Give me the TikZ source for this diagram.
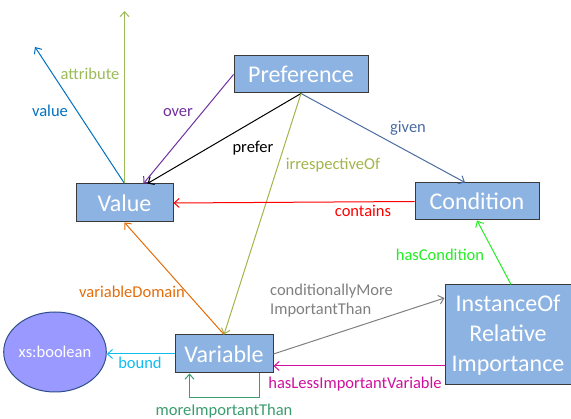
\documentclass[tikz,border=0pt]{standalone}
\usepackage{fontspec}
\setmainfont{Carlito}
\usetikzlibrary{arrows.meta,shapes.geometric,calc}

\definecolor{boxfill}{HTML}{8DB3E2}
\definecolor{boxline}{HTML}{3A3A3A}
\definecolor{boolfill}{HTML}{9999FF}
\definecolor{boolline}{HTML}{2F4F8A}
\definecolor{cValue}{HTML}{0070C0}
\definecolor{cAttr}{HTML}{9BBB59}
\definecolor{cOver}{HTML}{7030A0}
\definecolor{cGiven}{HTML}{4A6CA0}
\definecolor{cIrresp}{HTML}{A3B44A}
\definecolor{cContains}{HTML}{FF0000}
\definecolor{cDomain}{HTML}{E46C0A}
\definecolor{cBound}{HTML}{10BCF0}
\definecolor{cMore}{HTML}{3A9D6E}
\definecolor{cCond}{HTML}{808080}
\definecolor{cLess}{HTML}{D0109C}
\definecolor{cHasCond}{HTML}{22EE22}

\tikzset{
  concept/.style={draw=boxline, line width=1pt, fill=boxfill, text=white,
    font=\fontsize{24}{30}\selectfont, inner sep=0pt, align=center},
  rel/.style={line width=1pt, -{Straight Barb[length=5pt,width=9pt]}},
  lbl/.style={font=\fontsize{16.5}{19.5}\selectfont, inner sep=0pt,
    text height=0.65em, text depth=0.15em, yshift=-3pt}
}

\begin{document}
\begin{tikzpicture}[x=1pt,y=-1pt]
\useasboundingbox (0,0) rectangle (571,419);

% classes
\node[concept, minimum width=134, minimum height=37] (Preference) at (301,74.5) {Preference};
\node[concept, minimum width=97, minimum height=38] (Value) at (124.5,203) {Value};
\node[concept, minimum width=124, minimum height=37] (Condition) at (477,201.5) {Condition};
\node[concept, minimum width=98, minimum height=38] (Variable) at (224,354) {Variable};
\node[concept, minimum width=126, minimum height=100] (Instance) at (508,335) {InstanceOf\\Relative\\Importance};
\node[ellipse, draw=boolline, line width=1pt, fill=boolfill, text=white,
  minimum width=84, minimum height=80, inner sep=0pt,
  font=\fontsize{16.5}{19.5}\selectfont] (bool) at (55,352) {xs:boolean};

% free ends of the dangling properties of Value
\coordinate (valueEnd) at (35,47);
\coordinate (attrEnd) at (124.5,11);

% properties
\draw[rel, cValue] (Value.north) -- (valueEnd);
\draw[rel, cAttr] (Value.north) -- (attrEnd);
\draw[rel, cOver] (Preference.west) -- ($(Value.north)+(19,0)$);
\draw[rel, black] (Preference.south) -- ($(Value.north)+(23,0)$);
\draw[rel, cGiven] (Preference.south) -- ($(Condition.north)+(-12,0)$);
\draw[rel, cIrresp] (Preference.south) -- (Variable.north);
\draw[rel, cContains] (Condition.west) -- (Value.east);
\draw[rel, cDomain] (Variable.north) -- (Value.south);
\draw[rel, cBound] (Variable.west) -- (Variable.west -| bool.east);
\draw[rel, cMore] ($(Variable.south east)+(-14,0)$) -- ++(0,24) -| ($(Variable.south west)+(15,0)$);
\draw[rel, cCond] (Variable.east) -- ($(Instance.west)+(0,-37)$);
\draw[rel, cLess] ($(Instance.west)+(0,31)$) coordinate (lessStart) -- (Variable.east |- lessStart);
\draw[rel, cHasCond] ($(Instance.north)+(3,0)$) -- (Condition.south);

% property labels
\node[lbl, text=cValue] (lValue) at (50,111) {value};
\node[lbl, text=cAttr] (lAttr) at (90,74) {attribute};
\node[lbl, text=cOver] (lOver) at (178,111) {over};
\node[lbl, text=black] (lPrefer) at (253,147) {prefer};
\node[lbl, text=cGiven] (lGiven) at (408,127) {given};
\node[lbl, text=cIrresp] (lIrresp) at (333,164) {irrespectiveOf};
\node[lbl, text=cContains] (lContains) at (363,211) {contains};
\node[lbl, text=cDomain] (lDomain) at (132,292) {variableDomain};
\node[lbl, text=cBound] (lBound) at (140,363) {bound};
\node[lbl, text=cMore] (lMore) at (224,410) {moreImportantThan};
\node[lbl, text=cCond, anchor=west] (lCondA) at (270,290) {conditionallyMore};
\node[lbl, text=cCond, anchor=west] (lCondB) at (270,309.5) {ImportantThan};
\node[lbl, text=cLess] (lLess) at (355,383) {hasLessImportantVariable};
\node[lbl, text=cHasCond] (lHasCond) at (440,255) {hasCondition};
\end{tikzpicture}
\end{document}
